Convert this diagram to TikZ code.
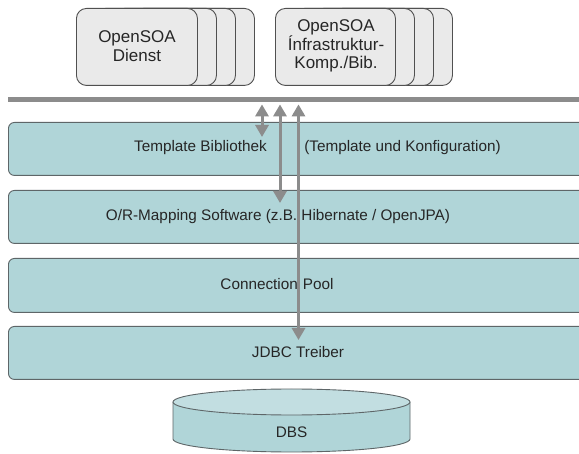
\documentclass[tikz,border=0pt]{standalone}
\usepackage{fontspec}
\setmainfont{Liberation Sans}
\usetikzlibrary{arrows.meta}
\definecolor{layerfill}{HTML}{B0D5D8}
\definecolor{layerline}{HTML}{5E6668}
\definecolor{topfill}{HTML}{EAEAEA}
\definecolor{topline}{HTML}{505050}
\definecolor{arrowgray}{HTML}{8C8C8C}
\definecolor{dbtop}{HTML}{C2DEE1}
\begin{document}
\begin{tikzpicture}[x=1pt,y=-1pt,
 layerbox/.style={draw=layerline, fill=layerfill, rounded corners=6pt, line width=0.9pt, minimum width=600pt, anchor=north west, inner sep=0pt},
 layertext/.style={font=\fontsize{15.3}{17}\selectfont, inner sep=0pt, text=black!85},
 stackbox/.style={draw=topline, fill=topfill, rounded corners=10pt, line width=0.9pt, minimum width=121pt, minimum height=77pt, anchor=north west, inner sep=0pt},
 toptext/.style={font=\fontsize{17}{18.4}\selectfont, align=center, text=black!85, inner sep=0pt},
 dconn/.style={draw=arrowgray, line width=3pt, {Triangle[length=12pt,width=13pt]}-{Triangle[length=12pt,width=13pt]}}
]
\clip (0,0) rectangle (579,454);
\fill[white] (0,0) rectangle (579,454);

% stacked boxes (back to front)
\node[stackbox] (ls3) at (133,8) {};
\node[stackbox] (ls2) at (114,8) {};
\node[stackbox] (ls1) at (95,8) {};
\node[stackbox] (ls0) at (76,8) {};
\node[toptext] (lstxt) at (137,46) {OpenSOA\\Dienst};

\node[stackbox, minimum width=120pt] (rs3) at (332,8) {};
\node[stackbox, minimum width=120pt] (rs2) at (313,8) {};
\node[stackbox, minimum width=120pt] (rs1) at (294,8) {};
\node[stackbox, minimum width=120pt] (rs0) at (275,8) {};
\node[toptext] (rstxt) at (336,46) {OpenSOA\\Ínfrastruktur-\\Komp./Bib.};

% bar
\node[fill=arrowgray, minimum width=590pt, minimum height=5pt, anchor=north west, inner sep=0pt] (bar) at (8,97) {};

% layers
\node[layerbox, minimum height=53pt] (tpl) at (8,122) {};
\node[layerbox, minimum height=53pt] (orm) at (8,190) {};
\node[layerbox, minimum height=54pt] (pool) at (8,258) {};
\node[layerbox, minimum height=53pt] (jdbc) at (8,326) {};

\node[layertext] (tpltxt) at (200.5,148) {Template Bibliothek};
\node[layertext] (tplcfg) at (402.5,148) {(Template und Konfiguration)};
\node[layertext] (ormtxt) at (278,217) {O/R-Mapping Software (z.B. Hibernate / OpenJPA)};
\node[layertext] (pooltxt) at (277,284) {Connection\hspace{5pt}Pool};
\node[layertext] (jdbctxt) at (298,352) {JDBC Treiber};

% DBS cylinder
\fill[layerfill] (173,402) -- (173,439) arc[start angle=180,end angle=0,x radius=118.5,y radius=13] -- (410,402) -- cycle;
\draw[layerline, line width=0.9pt] (173,402) -- (173,439) arc[start angle=180,end angle=0,x radius=118.5,y radius=13] -- (410,402);
\draw[layerline, fill=dbtop, line width=0.9pt] (291.5,402) ellipse[x radius=118.5, y radius=13];
\node[layertext] (dbs) at (291.5,432) {DBS};

% arrows
\coordinate (x1) at (262,0);
\coordinate (x2) at (280,0);
\coordinate (x3) at (298.5,0);
\draw[dconn] ([yshift=-2pt]bar.south -| x1) -- ([yshift=-15pt]tpl.north -| x1);
\draw[dconn] ([yshift=-2pt]bar.south -| x2) -- ([yshift=-13pt]orm.north -| x2);
\draw[dconn] ([yshift=-2pt]bar.south -| x3) -- ([yshift=-14pt]jdbc.north -| x3);
\end{tikzpicture}
\end{document}
